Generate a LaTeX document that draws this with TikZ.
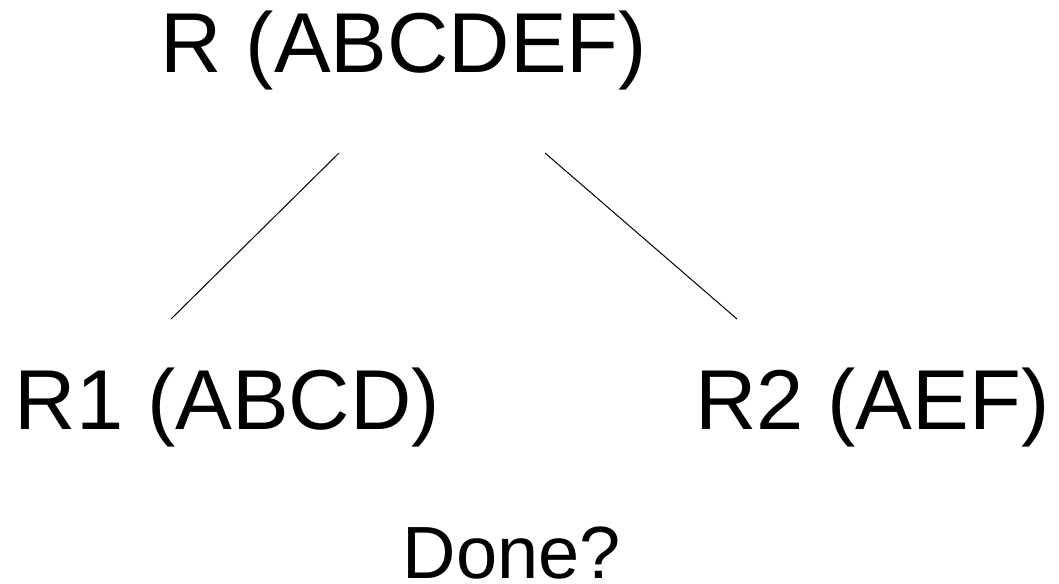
\documentclass[tikz,border=0pt]{standalone}
\usepackage{fontspec}
\setmainfont{Liberation Sans}
\begin{document}
\begin{tikzpicture}[x=1pt,y=-1pt,
  bigtext/.style={inner sep=0pt,anchor=base,font=\fontsize{85}{100}\selectfont},
  smalltext/.style={inner sep=0pt,anchor=base,font=\fontsize{74}{88}\selectfont},
  edge/.style={draw=black,line width=1pt}]
\useasboundingbox[fill=white] (0,0) rectangle (1059,583);
\node[bigtext] (r) at (404,73) {R (ABCDEF)};
\node[bigtext] (r1) at (227.5,429) {R1 (ABCD)};
\node[bigtext] (r2) at (872.5,429) {R2 (AEF)};
\node[smalltext] (done) at (512,578) {Done?};
\coordinate (la) at (339,153);
\coordinate (lb) at (171,319);
\coordinate (ra) at (545,153);
\coordinate (rb) at (737,319);
\draw[edge] (la) -- (lb);
\draw[edge] (ra) -- (rb);
\end{tikzpicture}
\end{document}
